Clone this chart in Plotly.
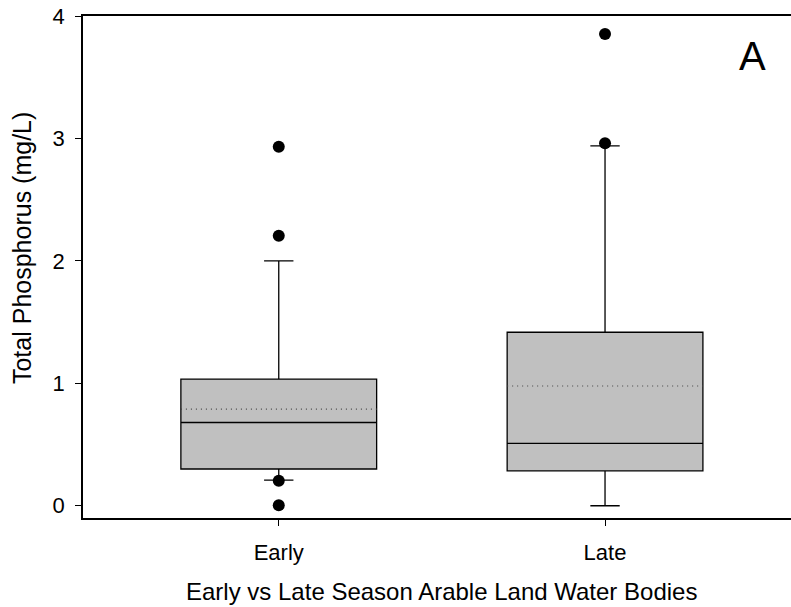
import plotly.graph_objects as go

# ---- data ----
categories = ["Early", "Late"]
positions = [1, 2]
q1 = [0.30, 0.285]
median = [0.68, 0.51]
q3 = [1.035, 1.417]
lower_whisker = [0.21, 0.0]
upper_whisker = [2.00, 2.94]
means = [0.79, 0.978]
outliers_early = [2.933, 2.205, 0.205, 0.005]
outliers_late = [3.853, 2.96]

BOX_W = 0.6
FONT = "Liberation Sans, Arial, sans-serif"

fig = go.Figure()

for i, cat in enumerate(categories):
    fig.add_trace(go.Box(
        x=[positions[i]],
        q1=[q1[i]], median=[median[i]], q3=[q3[i]],
        lowerfence=[lower_whisker[i]], upperfence=[upper_whisker[i]],
        width=BOX_W, whiskerwidth=0.15,
        fillcolor="#c0c0c0",
        line=dict(color="black", width=1.3),
        boxpoints=False, showlegend=False, name=cat,
        hoverinfo="skip",
    ))
    fig.add_trace(go.Scatter(
        x=[positions[i] - BOX_W / 2, positions[i] + BOX_W / 2],
        y=[means[i], means[i]],
        mode="lines",
        line=dict(color="#444444", width=1.2, dash="1px,4px"),
        showlegend=False, hoverinfo="skip",
    ))

for pos, vals in zip(positions, [outliers_early, outliers_late]):
    fig.add_trace(go.Scatter(
        x=[pos] * len(vals), y=vals, mode="markers",
        marker=dict(color="black", size=12),
        showlegend=False, hoverinfo="skip",
    ))

fig.add_annotation(
    text="A", x=0.946, y=0.92, xref="paper", yref="paper",
    xanchor="center", yanchor="middle",
    showarrow=False, font=dict(family=FONT, size=40, color="black"),
)
fig.add_annotation(
    text="Early vs Late Season Arable Land Water Bodies",
    x=0.507, y=-0.147, xref="paper", yref="paper",
    xanchor="center", yanchor="middle",
    showarrow=False, font=dict(family=FONT, size=24, color="black"),
)
fig.add_annotation(
    text="Total Phosphorus (mg/L)", textangle=-90,
    x=-0.086, y=0.538, xref="paper", yref="paper",
    xanchor="center", yanchor="middle",
    showarrow=False, font=dict(family=FONT, size=25, color="black"),
)

fig.update_layout(
    width=791, height=607,
    margin=dict(l=83, r=0, t=16, b=89),
    paper_bgcolor="white", plot_bgcolor="white",
    font=dict(family=FONT, color="black"),
    xaxis=dict(
        range=[0.4, 2.57], tickmode="array", tickvals=positions, ticktext=categories,
        showline=True, linecolor="black", linewidth=1.5, mirror=True,
        ticks="outside", ticklen=6, tickwidth=1.2, tickcolor="black",
        ticklabelstandoff=8,
        showgrid=False, zeroline=False,
        tickfont=dict(family=FONT, size=22),
    ),
    yaxis=dict(
        range=[-0.1, 4.0], tickvals=[0, 1, 2, 3, 4],
        showline=True, linecolor="black", linewidth=1.5,
        ticks="outside", ticklen=6, tickwidth=1.2, tickcolor="black",
        ticklabelstandoff=6,
        showgrid=False, zeroline=False,
        tickfont=dict(family=FONT, size=22),
    ),
)

fig.write_html("out.html")
